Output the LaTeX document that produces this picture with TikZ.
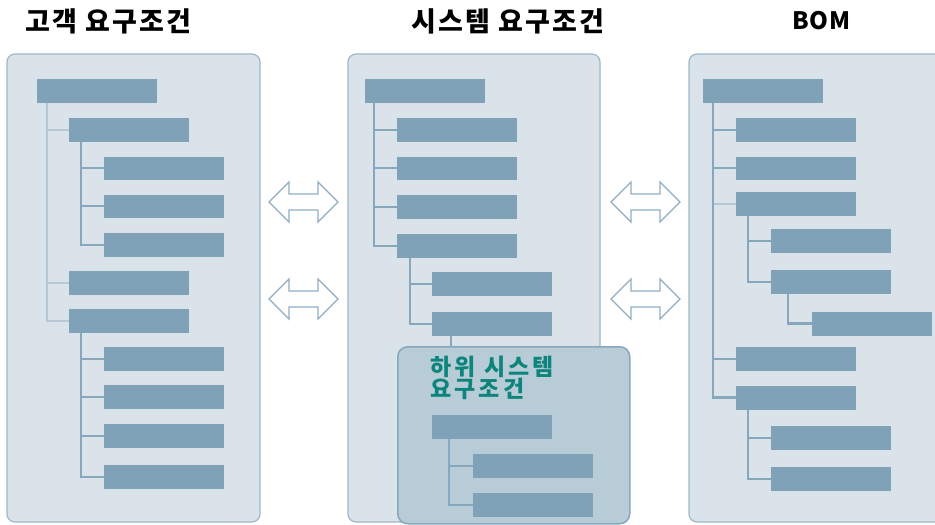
\documentclass[tikz,border=0pt]{standalone}
\usepackage{fontspec}
\newfontfamily\kr{Noto Sans CJK KR}
\definecolor{panelfill}{HTML}{DBE3EA}
\definecolor{panelline}{HTML}{9DB7C8}
\definecolor{barfill}{HTML}{7FA2B8}
\definecolor{connline}{HTML}{86A7BC}
\definecolor{connlight}{HTML}{B4C8D5}
\definecolor{subfill}{HTML}{B8CCD8}
\definecolor{subline}{HTML}{86A7BC}
\definecolor{tealtext}{HTML}{0E857C}
\definecolor{arrowcol}{HTML}{8FAEC2}
\tikzset{
  panel/.style={draw=panelline, fill=panelfill, line width=1.2pt, rounded corners=8pt},
  subpanel/.style={draw=subline, fill=subfill, line width=1.5pt, rounded corners=10pt},
  bar/.style={fill=barfill, draw=none, minimum width=120pt, minimum height=23.5pt,
    inner sep=0pt, outer sep=0pt, anchor=north west},
  conn/.style={draw=connline, line width=1.6pt},
  connl/.style={draw=connlight, line width=2pt},
  connk/.style={draw=connline, line width=2.8pt},
  title/.style={font=\kr\bfseries\fontsize{27}{30}\selectfont\addfontfeatures{LetterSpace=8}, anchor=base west, inner sep=0pt, text=black},
  dblarrow/.pic={\draw[draw=arrowcol, line width=1.3pt, fill=white, line join=miter]
    (-34.5,0) -- (-14.5,-20) -- (-14.5,-8) -- (14.5,-8) -- (14.5,-20) -- (34.5,0)
    -- (14.5,20) -- (14.5,8) -- (-14.5,8) -- (-14.5,20) -- cycle;}
}
\begin{document}
\begin{tikzpicture}[x=1pt,y=-1pt]
\useasboundingbox (0,0) rectangle (935,525);
\clip (0,0) rectangle (935,525);
% titles
\node[title] (t1) at (25,31) {고객 요구조건};
\node[title] (t2) at (411,31) {시스템 요구조건};
\node[title, font=\kr\bfseries\fontsize{24}{28}\selectfont\addfontfeatures{LetterSpace=3}] (t3) at (792,29) {BOM};
% panels
\draw[panel] (7,54) rectangle (260,522);
\draw[panel] (348,54) rectangle (600,522);
\draw[panel] (689,54) rectangle (950,522);
% ---------- panel 1 ----------
\node[bar] (pa) at (37,79) {};
\node[bar] (pb) at (69,118) {};
\node[bar] (pc1) at (104,156.5) {};
\node[bar] (pc2) at (104,194.5) {};
\node[bar] (pc3) at (104,233) {};
\node[bar] (pd) at (69,271) {};
\node[bar] (pe) at (69,309) {};
\node[bar] (pf1) at (104,347) {};
\node[bar] (pf2) at (104,385) {};
\node[bar] (pf3) at (104,424) {};
\node[bar] (pf4) at (104,465) {};
\draw[connl] ([xshift=10pt]pa.south west) |- (pb.west);
\draw[connl] ([xshift=10pt]pa.south west) |- (pd.west);
\draw[connl] ([xshift=10pt]pa.south west) |- (pe.west);
\foreach \c in {pc1,pc2,pc3} \draw[conn] ([xshift=12pt]pb.south west) |- (\c.west);
\foreach \c in {pf1,pf2,pf3,pf4} \draw[conn] ([xshift=12pt]pe.south west) |- (\c.west);
% ---------- panel 2 ----------
\node[bar] (qa) at (365,79) {};
\node[bar] (qb1) at (397,118) {};
\node[bar] (qb2) at (397,156.5) {};
\node[bar] (qb3) at (397,195) {};
\node[bar] (qb4) at (397,234) {};
\node[bar] (qc1) at (432,272) {};
\node[bar] (qc2) at (432,312) {};
\foreach \c in {qb1,qb2,qb3,qb4} \draw[conn] ([xshift=9pt]qa.south west) |- (\c.west);
\foreach \c in {qc1,qc2} \draw[conn] ([xshift=13pt]qb4.south west) |- (\c.west);
% subsystem
\node[subpanel, minimum width=232pt, minimum height=177pt, inner sep=0pt, anchor=north west] (sub) at (397,346) {};
\draw[conn] ([xshift=19pt]qc2.south west) -- ([xshift=19pt]qc2.south west |- sub.north);
\node[font=\kr\bfseries\fontsize{23}{22}\selectfont\addfontfeatures{LetterSpace=14}, text=tealtext,
  anchor=north west, inner sep=0pt, align=left] (subt) at (430,356) {하위 시스템\\요구조건};
\node[bar] (sa) at (432,415) {};
\node[bar] (s1) at (473,454) {};
\node[bar] (s2) at (473,493) {};
\foreach \c in {s1,s2} \draw[conn] ([xshift=17pt]sa.south west) |- (\c.west);
% ---------- panel 3 ----------
\node[bar] (ra) at (703,79) {};
\node[bar] (rb1) at (736,118) {};
\node[bar] (rb2) at (736,156.5) {};
\node[bar] (rb3) at (736,192) {};
\node[bar] (rc1) at (771,229) {};
\node[bar] (rc2) at (771,270) {};
\node[bar] (rd) at (812,312) {};
\node[bar] (rb4) at (736,347) {};
\node[bar] (rb5) at (736,386) {};
\node[bar] (re1) at (771,426) {};
\node[bar] (re2) at (771,467) {};
\foreach \c in {rb1,rb2,rb4} \draw[conn] ([xshift=10pt]ra.south west) |- (\c.west);
\draw[connl] ([xshift=10pt]ra.south west) |- (rb3.west);
\draw[connk] ([xshift=10pt]ra.south west) |- (rb5.west);
\foreach \c in {rc1,rc2} \draw[conn] ([xshift=12pt]rb3.south west) |- (\c.west);
\draw[connk] ([xshift=17pt]rc2.south west) |- (rd.west);
\foreach \c in {re1,re2} \draw[conn] ([xshift=12pt]rb5.south west) |- (\c.west);
% ---------- double arrows ----------
\pic (ar1) at (303.5,202) {dblarrow};
\pic (ar2) at (303.5,299) {dblarrow};
\pic (ar3) at (645.5,202) {dblarrow};
\pic (ar4) at (645.5,299) {dblarrow};
\end{tikzpicture}
\end{document}
